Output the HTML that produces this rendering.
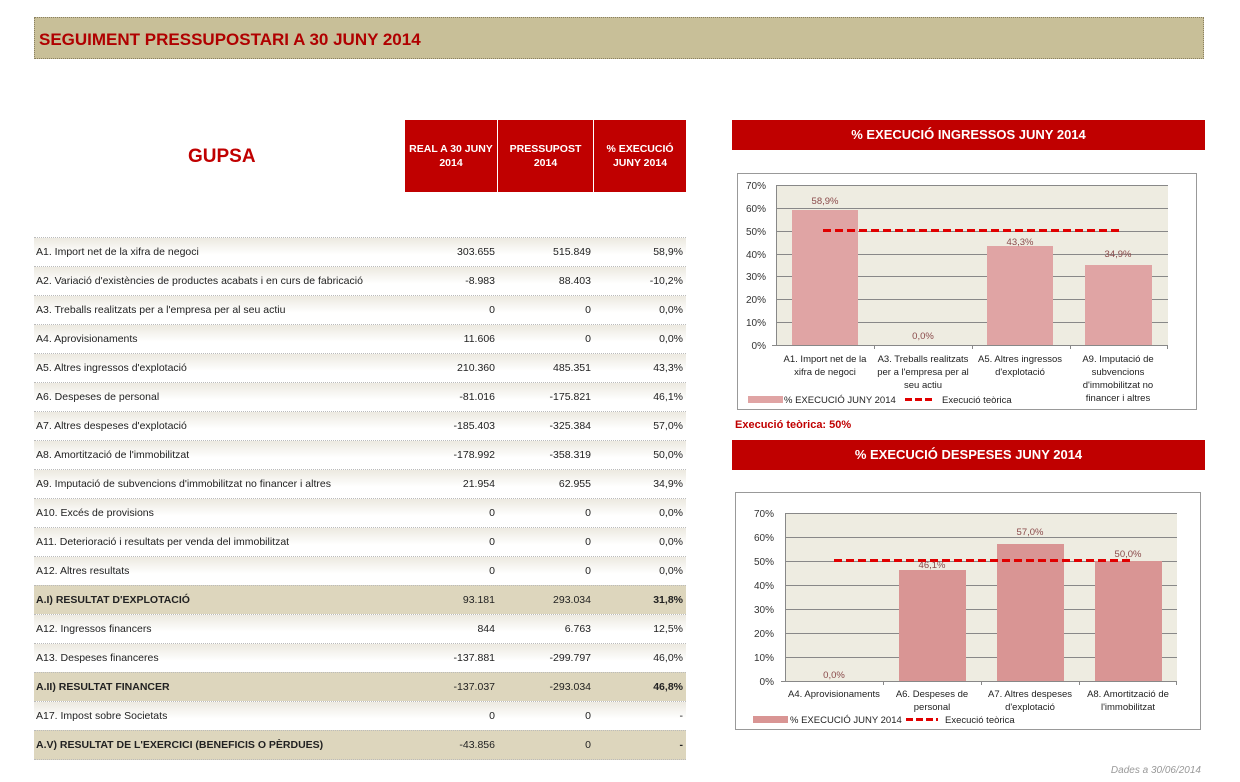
<!DOCTYPE html><html><head><meta charset="utf-8"><style>
body{margin:0;width:1240px;height:782px;background:#fff;font-family:"Liberation Sans",sans-serif;position:relative;overflow:hidden}
.a{position:absolute}
.title{left:34px;top:17px;width:1170px;height:42px;background:#c8bf98;border:1px dotted #8a8060;color:#b00000;font-weight:bold;font-size:17px;line-height:44px;padding-left:4px;box-sizing:border-box}
.hd{background:#c00000;color:#fff;font-weight:bold;font-size:10.5px;text-align:center;display:flex;align-items:center;justify-content:center;line-height:14px}
.row{position:absolute;left:34px;width:652px;height:29px;border-top:1px dotted #bbb;box-sizing:border-box;font-size:10.5px;color:#222;background:linear-gradient(#ece9e0,#fff 60%)}
.row.t{background:#ddd6bd;font-weight:bold}
.row span{position:absolute;top:8px}
.l{left:2px}.c1{right:191px}.c2{right:95px}.c3{right:3px}
.row.t .c1,.row.t .c2{font-weight:normal}
.ch{left:732px;width:473px;height:30px;background:#c00000;color:#fff;font-weight:bold;font-size:13px;text-align:center;line-height:30px}
</style></head><body>
<div class="a title">SEGUIMENT PRESSUPOSTARI A 30 JUNY 2014</div>
<div class="a" style="left:188px;top:146px;color:#c00000;font-weight:bold;font-size:19px">GUPSA</div>
<div class="a hd" style="left:405px;top:120px;width:92px;height:72px">REAL A 30 JUNY<br>2014</div>
<div class="a hd" style="left:498px;top:120px;width:95px;height:72px">PRESSUPOST<br>2014</div>
<div class="a hd" style="left:594px;top:120px;width:92px;height:72px">% EXECUCIÓ<br>JUNY 2014</div>

<div class="row" style="top:237px"><span class="l">A1. Import net de la xifra de negoci</span><span class="c1">303.655</span><span class="c2">515.849</span><span class="c3">58,9%</span></div>
<div class="row" style="top:266px"><span class="l">A2. Variació d'existències de productes acabats i en curs de fabricació</span><span class="c1">-8.983</span><span class="c2">88.403</span><span class="c3">-10,2%</span></div>
<div class="row" style="top:295px"><span class="l">A3. Treballs realitzats per a l'empresa per al seu actiu</span><span class="c1">0</span><span class="c2">0</span><span class="c3">0,0%</span></div>
<div class="row" style="top:324px"><span class="l">A4. Aprovisionaments</span><span class="c1">11.606</span><span class="c2">0</span><span class="c3">0,0%</span></div>
<div class="row" style="top:353px"><span class="l">A5. Altres ingressos d'explotació</span><span class="c1">210.360</span><span class="c2">485.351</span><span class="c3">43,3%</span></div>
<div class="row" style="top:382px"><span class="l">A6. Despeses de personal</span><span class="c1">-81.016</span><span class="c2">-175.821</span><span class="c3">46,1%</span></div>
<div class="row" style="top:411px"><span class="l">A7. Altres despeses d'explotació</span><span class="c1">-185.403</span><span class="c2">-325.384</span><span class="c3">57,0%</span></div>
<div class="row" style="top:440px"><span class="l">A8. Amortització de l'immobilitzat</span><span class="c1">-178.992</span><span class="c2">-358.319</span><span class="c3">50,0%</span></div>
<div class="row" style="top:469px"><span class="l">A9. Imputació de subvencions d'immobilitzat no financer i altres</span><span class="c1">21.954</span><span class="c2">62.955</span><span class="c3">34,9%</span></div>
<div class="row" style="top:498px"><span class="l">A10. Excés de provisions</span><span class="c1">0</span><span class="c2">0</span><span class="c3">0,0%</span></div>
<div class="row" style="top:527px"><span class="l">A11. Deterioració i resultats per venda del immobilitzat</span><span class="c1">0</span><span class="c2">0</span><span class="c3">0,0%</span></div>
<div class="row" style="top:556px"><span class="l">A12. Altres resultats</span><span class="c1">0</span><span class="c2">0</span><span class="c3">0,0%</span></div>
<div class="row t" style="top:585px"><span class="l">A.I) RESULTAT D'EXPLOTACIÓ</span><span class="c1">93.181</span><span class="c2">293.034</span><span class="c3">31,8%</span></div>
<div class="row" style="top:614px"><span class="l">A12. Ingressos financers</span><span class="c1">844</span><span class="c2">6.763</span><span class="c3">12,5%</span></div>
<div class="row" style="top:643px"><span class="l">A13. Despeses financeres</span><span class="c1">-137.881</span><span class="c2">-299.797</span><span class="c3">46,0%</span></div>
<div class="row t" style="top:672px"><span class="l">A.II) RESULTAT FINANCER</span><span class="c1">-137.037</span><span class="c2">-293.034</span><span class="c3">46,8%</span></div>
<div class="row" style="top:701px"><span class="l">A17. Impost sobre Societats</span><span class="c1">0</span><span class="c2">0</span><span class="c3">-</span></div>
<div class="row t" style="top:730px;border-bottom:1px dotted #bbb;height:30px"><span class="l">A.V) RESULTAT DE L'EXERCICI (BENEFICIS O PÈRDUES)</span><span class="c1">-43.856</span><span class="c2">0</span><span class="c3">-</span></div>

<div class="a ch" style="top:120px">% EXECUCIÓ INGRESSOS JUNY 2014</div>
<div class="a ch" style="top:440px">% EXECUCIÓ DESPESES JUNY 2014</div>
<div class="a" style="left:735px;top:419px;color:#c00000;font-weight:bold;font-size:11px">Execució teòrica: 50%</div>
<div class="a" style="right:39px;top:765px;color:#999;font-style:italic;font-size:10px">Dades a 30/06/2014</div>

<svg class="a" style="left:0;top:0" width="1240" height="782" font-family="Liberation Sans, sans-serif" font-size="10">
<rect x="737.5" y="173.5" width="459" height="236" fill="#fff" stroke="#999"/>
<rect x="776" y="185" width="392" height="160" fill="#eeece1"/>
<g stroke="#888" stroke-width="1">
<line x1="776" x2="1168" y1="185.5" y2="185.5"/><line x1="776" x2="1168" y1="208.5" y2="208.5"/><line x1="776" x2="1168" y1="231.5" y2="231.5"/><line x1="776" x2="1168" y1="254.5" y2="254.5"/><line x1="776" x2="1168" y1="276.5" y2="276.5"/><line x1="776" x2="1168" y1="299.5" y2="299.5"/><line x1="776" x2="1168" y1="322.5" y2="322.5"/><line x1="772" x2="1168" y1="345.5" y2="345.5"/>
<line x1="776.5" x2="776.5" y1="185" y2="345"/>
<line x1="874.5" x2="874.5" y1="345" y2="349"/><line x1="972.5" x2="972.5" y1="345" y2="349"/><line x1="1070.5" x2="1070.5" y1="345" y2="349"/><line x1="1167.5" x2="1167.5" y1="345" y2="349"/>
</g>
<g fill="#333" text-anchor="end"><text x="766" y="189">70%</text><text x="766" y="212">60%</text><text x="766" y="235">50%</text><text x="766" y="258">40%</text><text x="766" y="280">30%</text><text x="766" y="303">20%</text><text x="766" y="326">10%</text><text x="766" y="349">0%</text></g>
<g fill="#e0a4a4"><rect x="792" y="210" width="66" height="135"/><rect x="987" y="246" width="66" height="99"/><rect x="1085" y="265" width="67" height="80"/></g>
<line x1="823" x2="1120" y1="230.5" y2="230.5" stroke="#e00000" stroke-width="3" stroke-dasharray="8,4"/>
<g fill="#8a4a4a" text-anchor="middle" font-size="9.5"><text x="825" y="204">58,9%</text><text x="923" y="339">0,0%</text><text x="1020" y="245">43,3%</text><text x="1118" y="257">34,9%</text></g>
<g fill="#222" text-anchor="middle" font-size="9.5">
<text x="825" y="362">A1. Import net de la</text><text x="825" y="375">xifra de negoci</text>
<text x="923" y="362">A3. Treballs realitzats</text><text x="923" y="375">per a l'empresa per al</text><text x="923" y="388">seu actiu</text>
<text x="1020" y="362">A5. Altres ingressos</text><text x="1020" y="375">d'explotació</text>
<text x="1118" y="362">A9. Imputació de</text><text x="1118" y="375">subvencions</text><text x="1118" y="388">d'immobilitzat no</text><text x="1118" y="401">financer i altres</text>
</g>
<rect x="748" y="396" width="35" height="7" fill="#e0a4a4"/><text x="784" y="403" fill="#222" font-size="9.5">% EXECUCIÓ JUNY 2014</text>
<line x1="905" x2="935" y1="399.5" y2="399.5" stroke="#e00000" stroke-width="3" stroke-dasharray="7,3"/><text x="942" y="403" fill="#222" font-size="9.5">Execució teòrica</text>

<rect x="735.5" y="492.5" width="465" height="237" fill="#fff" stroke="#999"/>
<rect x="785" y="513" width="392" height="168" fill="#eeece1"/>
<g stroke="#888" stroke-width="1">
<line x1="785" x2="1177" y1="513.5" y2="513.5"/><line x1="785" x2="1177" y1="537.5" y2="537.5"/><line x1="785" x2="1177" y1="561.5" y2="561.5"/><line x1="785" x2="1177" y1="585.5" y2="585.5"/><line x1="785" x2="1177" y1="609.5" y2="609.5"/><line x1="785" x2="1177" y1="633.5" y2="633.5"/><line x1="785" x2="1177" y1="657.5" y2="657.5"/><line x1="781" x2="1177" y1="681.5" y2="681.5"/>
<line x1="785.5" x2="785.5" y1="513" y2="681"/>
<line x1="883.5" x2="883.5" y1="681" y2="685"/><line x1="981.5" x2="981.5" y1="681" y2="685"/><line x1="1079.5" x2="1079.5" y1="681" y2="685"/><line x1="1176.5" x2="1176.5" y1="681" y2="685"/>
</g>
<g fill="#333" text-anchor="end"><text x="774" y="517">70%</text><text x="774" y="541">60%</text><text x="774" y="565">50%</text><text x="774" y="589">40%</text><text x="774" y="613">30%</text><text x="774" y="637">20%</text><text x="774" y="661">10%</text><text x="774" y="685">0%</text></g>
<g fill="#d99594"><rect x="899" y="570" width="67" height="111"/><rect x="997" y="544" width="67" height="137"/><rect x="1095" y="561" width="67" height="120"/></g>
<line x1="834" x2="1130" y1="560.5" y2="560.5" stroke="#e00000" stroke-width="3" stroke-dasharray="8,4"/>
<g fill="#8a4a4a" text-anchor="middle" font-size="9.5"><text x="834" y="678">0,0%</text><text x="932" y="568">46,1%</text><text x="1030" y="535">57,0%</text><text x="1128" y="557">50,0%</text></g>
<g fill="#222" text-anchor="middle" font-size="9.5">
<text x="834" y="697">A4. Aprovisionaments</text>
<text x="932" y="697">A6. Despeses de</text><text x="932" y="710">personal</text>
<text x="1030" y="697">A7. Altres despeses</text><text x="1030" y="710">d'explotació</text>
<text x="1128" y="697">A8. Amortització de</text><text x="1128" y="710">l'immobilitzat</text>
</g>
<rect x="753" y="716" width="35" height="7" fill="#d99594"/><text x="790" y="723" fill="#222" font-size="9.5">% EXECUCIÓ JUNY 2014</text>
<line x1="906" x2="938" y1="719.5" y2="719.5" stroke="#e00000" stroke-width="3" stroke-dasharray="7,3"/><text x="945" y="723" fill="#222" font-size="9.5">Execució teòrica</text>
</svg>
</body></html>
